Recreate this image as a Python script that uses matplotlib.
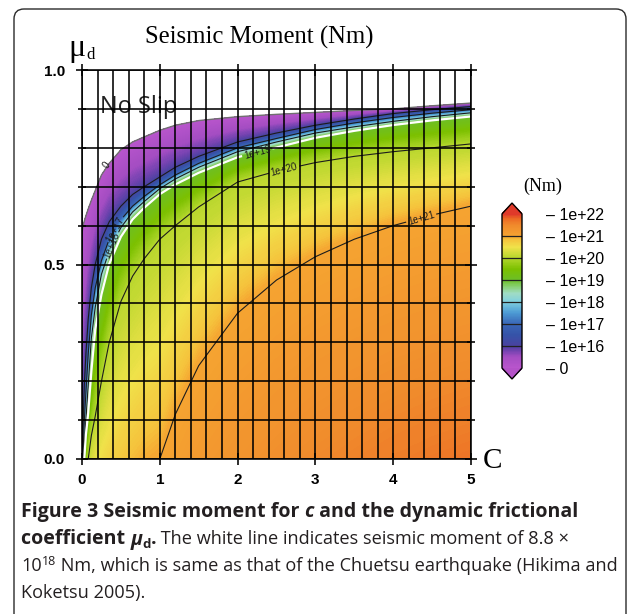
import numpy as np
import matplotlib
matplotlib.use("Agg")
import matplotlib.pyplot as plt
from matplotlib import cm
from matplotlib.colors import LinearSegmentedColormap, Normalize
from matplotlib.patches import FancyBboxPatch

plt.rcParams['font.family'] = ['Liberation Sans', 'DejaVu Sans']

nan = np.nan

C_COLS = [0, 0.01, 0.02, 0.03, 0.05, 0.08, 0.12, 0.17, 0.25, 0.35, 0.5, 0.65,
          0.8, 1.0, 1.2, 1.5, 2.0, 2.5, 3.0, 3.5, 4.0, 4.5, 5.0]
# log10 of the seismic moment along mu_d = 0
LOG_M_BASE = [15.5, 17.3, 18.5, 19.0, 19.5, 20.0, 20.25, 20.4, 20.55, 20.65, 20.78,
              20.87, 20.94, 21.0, 21.08, 21.18, 21.3, 21.4, 21.48, 21.55, 21.61,
              21.66, 21.7]
# mu_d of each contour level (nan: level not reached in that column)
MU_1E21 = [nan, nan, nan, nan, nan, nan, nan, nan, nan, nan, nan, nan, nan,
           0.0, 0.115, 0.24, 0.375, 0.46, 0.52, 0.565, 0.60, 0.627, 0.65]
MU_1E20 = [nan, nan, nan, nan, nan, 0.0, 0.06, 0.11, 0.20, 0.30, 0.405, 0.47,
           0.515, 0.565, 0.60, 0.648, 0.712, 0.74, 0.762, 0.778, 0.79, 0.80, 0.81]
MU_1E19 = [nan, nan, nan, 0.0, 0.06, 0.115, 0.22, 0.33, 0.42, 0.50, 0.57, 0.615,
           0.645, 0.68, 0.705, 0.735, 0.775, 0.80, 0.825, 0.843, 0.858, 0.87, 0.88]
MU_1E18 = [nan, nan, 0.01, 0.04, 0.10, 0.19, 0.31, 0.39, 0.475, 0.535, 0.595, 0.635,
           0.662, 0.695, 0.72, 0.75, 0.79, 0.815, 0.838, 0.854, 0.868, 0.88, 0.89]
MU_1E17 = [nan, 0.01, 0.05, 0.10, 0.17, 0.27, 0.37, 0.44, 0.51, 0.565, 0.615, 0.65,
           0.675, 0.705, 0.73, 0.76, 0.80, 0.824, 0.847, 0.864, 0.878, 0.889, 0.898]
MU_1E16 = [nan, 0.05, 0.13, 0.19, 0.27, 0.36, 0.44, 0.50, 0.565, 0.61, 0.65, 0.68,
           0.70, 0.725, 0.75, 0.778, 0.815, 0.838, 0.858, 0.874, 0.888, 0.898, 0.906]
# upper edge of the slip area ("No Slip" above it, moment 0)
MU_TOP = [0.58, 0.595, 0.605, 0.612, 0.625, 0.643, 0.665, 0.69, 0.73, 0.76, 0.795,
          0.815, 0.828, 0.845, 0.858, 0.87, 0.88, 0.886, 0.891, 0.896, 0.90, 0.908,
          0.915]
CURVE_LEVELS = [21, 20, 19, 18, 17, 16, 15]
CHUETSU = 8.8e18

# contour labels: level -> (text, position near which it sits)
LINE_LABELS = {21: ('1e+21', (4.35, 0.625)), 20: ('1e+20', (2.6, 0.742)),
               18: ('1e+18', (0.38, 0.55)), 17: ('1e+17', (0.43, 0.59)),
               16: (None, None)}

CBAR_TICKS = [15, 16, 17, 18, 19, 20, 21, 22]
CBAR_LABELS = ['0', '1e+16', '1e+17', '1e+18', '1e+19', '1e+20', '1e+21', '1e+22']

# colour stops (log10 moment, colour)
CMAP_STOPS = [(15.0, '#b855cc'), (15.5, '#a44dc2'), (15.8, '#6e42ae'), (16.0, '#4a42a0'),
              (16.5, '#3553a8'), (17.0, '#3a66b6'), (17.5, '#4c9ad4'), (18.0, '#80d0e0'),
              (18.4, '#a0dcc4'), (18.7, '#88d072'), (19.0, '#6cbf28'), (19.5, '#7cc000'),
              (19.9, '#a8d224'), (20.0, '#b6d62c'), (20.5, '#f0e24a'), (20.85, '#f5c23c'),
              (21.0, '#f5a431'), (21.5, '#f08a2c'), (21.8, '#ec6a24'), (22.0, '#e03a2a')]

W, H = 633, 614
fig = plt.figure(figsize=(W / 100, H / 100), dpi=100)


def px_box(x0, y0, x1, y1):
    return [x0 / W, 1 - y1 / H, (x1 - x0) / W, (y1 - y0) / H]


ax = fig.add_axes(px_box(82, 70, 471, 459))

# build the field: one grid row per contour curve
c = np.array(C_COLS, float)
z0 = np.array(LOG_M_BASE, float)
rows_y = [np.zeros_like(c)]
rows_z = [z0]
for lev, mu in zip(CURVE_LEVELS, [MU_1E21, MU_1E20, MU_1E19, MU_1E18, MU_1E17, MU_1E16, MU_TOP]):
    mu = np.array(mu, float)
    miss = np.isnan(mu)
    rows_y.append(np.where(miss, 0.0, mu))
    rows_z.append(np.where(miss, z0, float(lev)))
Y = np.array(rows_y)
Z = np.array(rows_z)
X = np.tile(c, (len(Y), 1))

lo, hi = CBAR_TICKS[0], CBAR_TICKS[-1]
cmap = LinearSegmentedColormap.from_list(
    'moment', [((v - lo) / (hi - lo), col) for v, col in CMAP_STOPS])
cmap.set_under('#b452c8')
cmap.set_over('#e03a2a')
norm = Normalize(lo, hi)

ax.contourf(X, Y, Z, levels=np.linspace(lo, hi, 281), cmap=cmap, norm=norm, zorder=1)

lab_kw = dict(fontsize=7, inline=True, inline_spacing=2)
for lev, (txt, pos) in LINE_LABELS.items():
    cs = ax.contour(X, Y, Z, levels=[lev], colors='#1c1c1c', linewidths=0.8, zorder=1.6)
    if txt:
        ax.clabel(cs, manual=[pos], fmt={lev: txt}, **lab_kw)
cw = ax.contour(X, Y, Z, levels=[np.log10(CHUETSU)], colors='white',
                linewidths=1.6, zorder=1.7)
ax.clabel(cw, manual=[(2.25, 0.79)], fmt={cw.levels[0]: '1e+19'},
          colors='#1c1c1c', **lab_kw)
ax.plot(c, MU_TOP, color='#707070', lw=1.0, zorder=1.6)
ax.text(0.32, 0.755, '0', fontsize=7, rotation=55, ha='center', va='center',
        color='#1c1c1c', zorder=3)

ax.text(0.23, 0.905, 'No Slip', fontsize=17, family='Open Sans', color='#222',
        ha='left', va='center', zorder=1.5)

# axes, grid and ticks
ax.set_xlim(0, 5)
ax.set_ylim(0, 1)
ax.set_xticks(range(6))
ax.set_xticks(np.arange(0, 5.01, 0.2), minor=True)
ax.set_yticks([0, 0.5, 1.0])
ax.set_yticks(np.arange(0, 1.01, 0.1), minor=True)
ax.set_yticklabels(['0.0', '0.5', '1.0'])
ax.set_axisbelow(False)
ax.grid(which='both', color='black', lw=1.15, zorder=2.5)
ax.tick_params(which='major', direction='inout', length=8.6, width=1.15,
               top=True, right=True, labelsize=11, pad=6)
ax.tick_params(axis='y', which='major', pad=8)
ax.tick_params(axis='x', which='minor', length=0)
ax.tick_params(axis='y', which='minor', direction='inout', length=5.8, width=1.15,
               left=True, right=True)
for lab in ax.get_xticklabels() + ax.get_yticklabels():
    lab.set_fontweight('bold')
for sp in ax.spines.values():
    sp.set_linewidth(1.15)

fig.text(259 / W, 1 - 37 / H, 'Seismic Moment (Nm)', family='Liberation Serif',
         fontsize=17.8, ha='center', va='center')
fig.text(68 / W, 1 - 56 / H, 'μ', family='Liberation Serif', fontsize=23,
         ha='left', va='baseline')
fig.text(86 / W, 1 - 59 / H, 'd', family='Liberation Serif', fontsize=12,
         ha='left', va='baseline')
fig.text(483 / W, 1 - 461 / H, 'C', family='Liberation Serif', fontsize=21,
         ha='left', va='center')

# colour bar
cax = fig.add_axes(px_box(502, 203, 522, 379))
sm = cm.ScalarMappable(norm=norm, cmap=cmap)
cb = fig.colorbar(sm, cax=cax, extend='both', extendfrac=0.071, ticks=CBAR_TICKS)
cb.ax.set_yticklabels(['– ' + t for t in CBAR_LABELS])
cb.ax.tick_params(length=0, pad=17, labelsize=11.5)
for t in CBAR_TICKS[1:-1]:
    cb.ax.axhline(t, color='#222', lw=0.9)
cb.outline.set_linewidth(1.0)
fig.text(543 / W, 1 - 186 / H, '(Nm)', family='Liberation Serif', fontsize=13,
         ha='center', va='center')

# caption
renderer = fig.canvas.get_renderer()
CAP = dict(family='Open Sans', fontsize=13.05, color='#231f20')


def run_width(s, kw):
    a = fig.text(0, 0, '|' + s + '|', **kw)
    b = fig.text(0, 0, '||', **kw)
    w = a.get_window_extent(renderer).width - b.get_window_extent(renderer).width
    a.remove()
    b.remove()
    return w


def write_line(x, y, runs):
    for s, extra, dy in runs:
        kw = dict(CAP)
        kw.update(extra)
        fig.text(x / W, 1 - (y - dy) / H, s, ha='left', va='baseline', **kw)
        x += run_width(s, kw)


B = dict(weight='bold', fontsize=14.1)
BI = dict(weight='bold', style='italic', fontsize=14.1)
SUB = dict(weight='bold', fontsize=9.5)
SUP = dict(fontsize=9)
write_line(21, 517, [('Figure 3 Seismic moment for ', B, 0), ('c', BI, 0),
                     (' and the dynamic frictional', B, 0)])
write_line(21, 544.5, [('coefficient ', B, 0), ('μ', BI, 0), ('d', SUB, -3),
                       ('.', B, 0), (' The white line indicates seismic moment of 8.8 ×', {}, 0)])
write_line(21, 571, [('10', {}, 0), ('18', SUP, 6),
                     (' Nm, which is same as that of the Chuetsu earthquake (Hikima and', {}, 0)])
write_line(21, 598, [('Koketsu 2005).', {}, 0)])

frame = FancyBboxPatch((0.14, -0.3), 6.12, 6.35,
                       boxstyle='round,pad=0,rounding_size=0.1',
                       transform=fig.dpi_scale_trans, fill=False,
                       ec='#2a2a2a', lw=1.0)
fig.patches.append(frame)

fig.savefig('out.png', dpi=100)
